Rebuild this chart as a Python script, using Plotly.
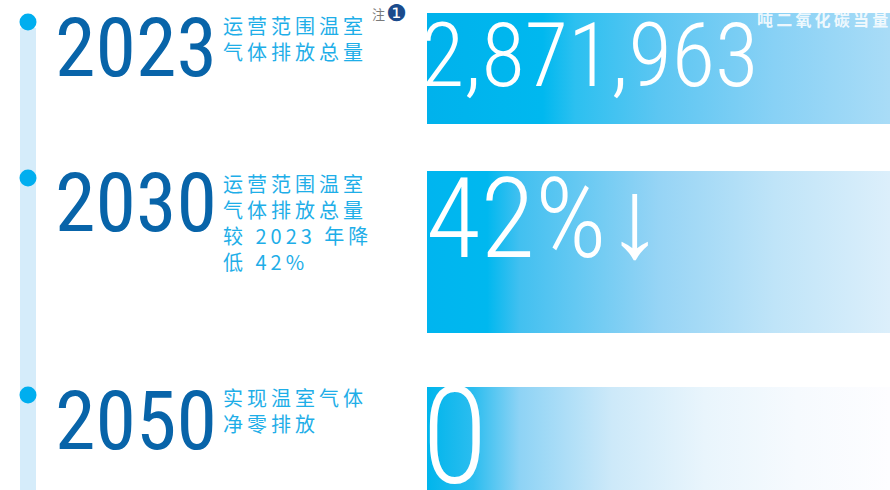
import plotly.graph_objects as go

# 数据
years = ["2023", "2030", "2050"]
descriptions = [
    ["运营范围温室", "气体排放总量"],
    ["运营范围温室", "气体排放总量", "较 2023 年降", "低 42%"],
    ["实现温室气体", "净零排放"],
]
headline_values = ["2,871,963", "42%↓", "0"]
unit_label = "吨二氧化碳当量"
note_label = "注"
note_number = "❶"

# 版式（像素坐标）
W, H = 890, 490
dot_y = [22, 178, 395]
year_centers = [48, 203, 421]
desc_first_line = [27, 185, 399]
bar_spans = [(13, 124), (171, 333), (387, 500)]
bar_left, bar_right = 427, 890
value_x = [419, 424, 420]
value_centers = [55, 218, 437]
value_sizes = [89, 112, 135]
bar_scales = [
    [[0, "#00b2ec"], [0.25, "#00b8ef"], [0.32, "#2cc0f0"], [0.5, "#5cc6f2"], [0.75, "#88d1f5"], [1, "#a9dcf7"]],
    [[0, "#00b5ef"], [0.13, "#00b8ef"], [0.2, "#42c0f0"], [0.5, "#96d4f5"], [0.75, "#bfe4f8"], [1, "#dceffb"]],
    [[0, "#00b5ec"], [0.1, "#2bbdef"], [0.2, "#8ed3f5"], [0.4, "#cde9f9"], [0.6, "#e9f5fc"], [0.8, "#f6fafe"], [1, "#fdfdff"]],
]

NARROW = "Roboto Condensed, Roboto, sans-serif"
CJK = "Noto Sans CJK SC, sans-serif"
SP = "\u2009"  # 字距


def spaced(s):
    return SP.join(list(s))


fig = go.Figure()

# 时间轴
fig.add_trace(go.Scatter(x=[20, 36, 36, 20, 20], y=[28, 28, H, H, 28], mode="lines",
                         fill="toself", fillcolor="#d5ecfa", line=dict(width=0),
                         hoverinfo="skip"))
fig.add_trace(go.Scatter(x=[28] * len(years), y=dot_y, mode="markers",
                         marker=dict(size=17, color="#00aeef", line=dict(width=0)),
                         hoverinfo="skip"))

# 渐变条
for (top, bottom), scale in zip(bar_spans, bar_scales):
    fig.add_trace(go.Scatter(
        x=[bar_left, bar_right, bar_right, bar_left, bar_left],
        y=[top, top, bottom, bottom, top],
        mode="lines", fill="toself", line=dict(width=0),
        fillgradient=dict(type="horizontal", colorscale=scale),
        hoverinfo="skip"))

for i, year in enumerate(years):
    fig.add_annotation(x=53, y=year_centers[i], text=year, showarrow=False,
                       xanchor="left", yanchor="middle",
                       font=dict(family=NARROW, size=82, color="#0864a9"))
    fig.add_annotation(x=221, y=desc_first_line[i] - 18, showarrow=False,
                       text="<br>".join(spaced(l) for l in descriptions[i]),
                       xanchor="left", yanchor="top", align="left",
                       font=dict(family=CJK, size=20, color="#1eaee8"))
    fig.add_annotation(x=value_x[i], y=value_centers[i], text=headline_values[i], showarrow=False,
                       xanchor="left", yanchor="middle",
                       font=dict(family=NARROW, size=value_sizes[i], color="white", weight=300))

fig.add_annotation(x=755, y=19, text=spaced(unit_label), showarrow=False, xanchor="left", yanchor="middle",
                   font=dict(family=CJK, size=16, color="rgba(255,255,255,0.85)", weight="bold"))
fig.add_annotation(x=370, y=13, text=note_label, showarrow=False, xanchor="left", yanchor="middle",
                   font=dict(family=CJK, size=13, color="#7a7a7a"))
fig.add_annotation(x=384, y=13, text=note_number, showarrow=False, xanchor="left", yanchor="middle",
                   font=dict(family="DejaVu Sans", size=23, color="#1a4b8c"))

fig.update_xaxes(range=[0, W], visible=False, fixedrange=True)
fig.update_yaxes(range=[H, 0], visible=False, fixedrange=True)
fig.update_layout(width=W, height=H, margin=dict(l=0, r=0, t=0, b=0),
                  plot_bgcolor="white", paper_bgcolor="white", showlegend=False)

fig.write_html("out.html", config={"displayModeBar": False},
               post_script="document.body.style.margin='0';document.body.style.overflow='hidden';")
